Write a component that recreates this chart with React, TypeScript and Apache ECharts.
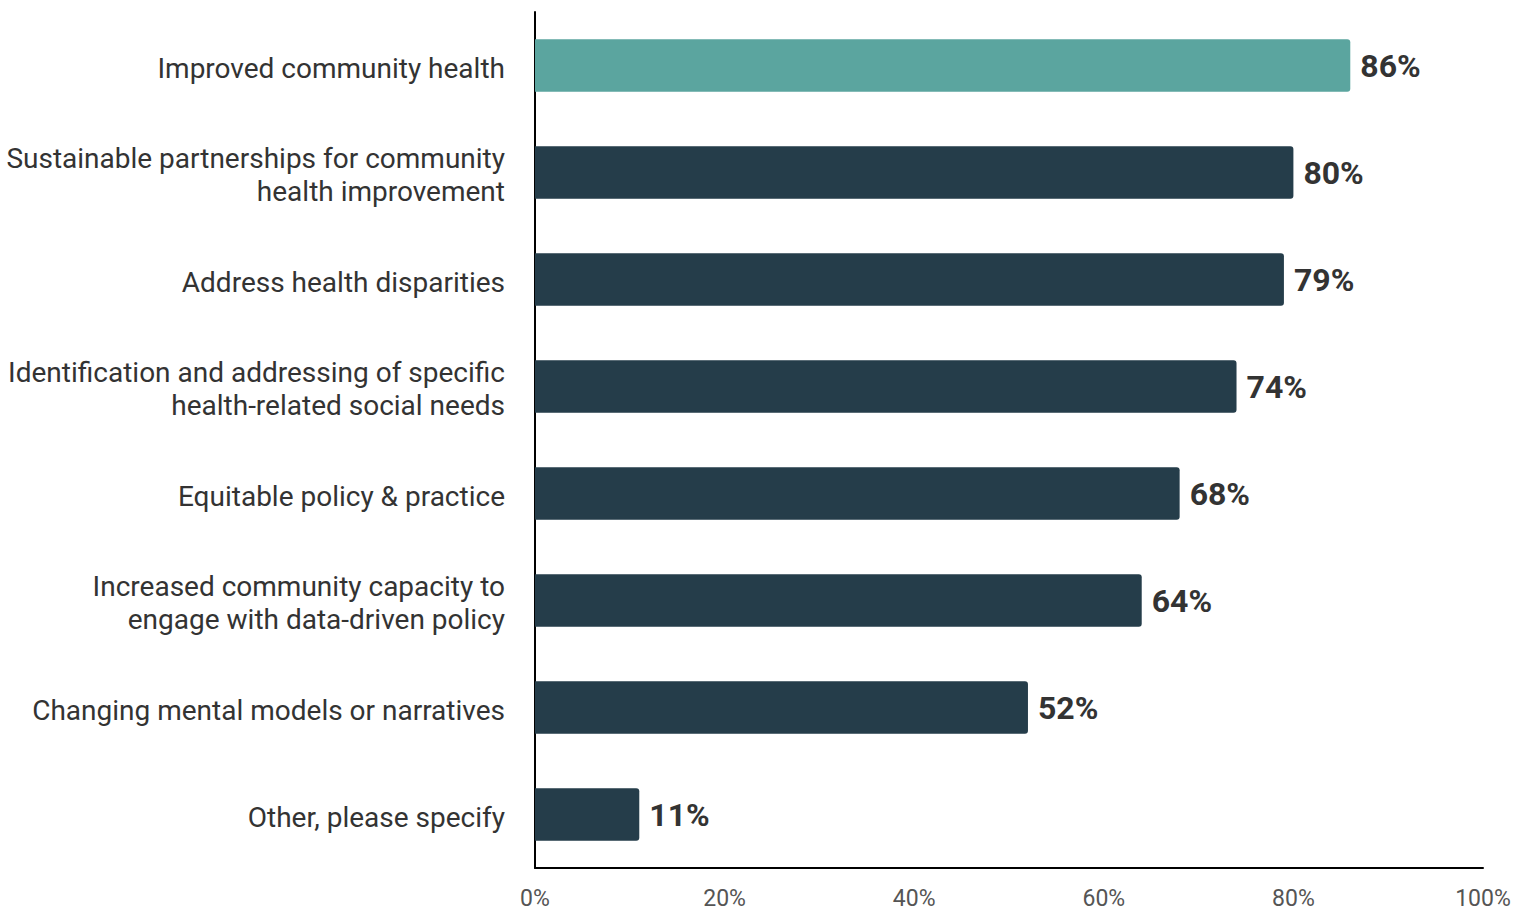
import React, { useEffect, useRef } from "react";
import * as echarts from "echarts";

const categories = [
  "Improved community health",
  "Sustainable partnerships for community\nhealth improvement",
  "Address health disparities",
  "Identification and addressing of specific\nhealth-related social needs",
  "Equitable policy & practice",
  "Increased community capacity to\nengage with data-driven policy",
  "Changing mental models or narratives",
  "Other, please specify",
];
const values = [86, 80, 79, 74, 68, 64, 52, 11];
const highlightIndex = 0;
const xTicks = [0, 20, 40, 60, 80, 100];

export default function App() {
  const ref = useRef<HTMLDivElement>(null);
  useEffect(() => {
    if (!ref.current) return;
    const chart = echarts.init(ref.current, null, { renderer: "svg" });
    const labelStyle = { color: "#333", fontFamily: "Roboto", fontSize: 28, lineHeight: 34, align: "right" };
    chart.setOption({
      animation: false,
      grid: { left: 535, right: 47, top: 12, bottom: 44, containLabel: false },
      xAxis: {
        type: "value",
        min: xTicks[0],
        max: xTicks[xTicks.length - 1],
        interval: 20,
        splitLine: { show: false },
        axisLine: { show: true, lineStyle: { color: "#000", width: 2 } },
        axisTick: { show: false },
        axisLabel: {
          formatter: "{value}%",
          color: "#555",
          fontFamily: "Roboto",
          fontSize: 23,
          margin: 19,
        },
      },
      yAxis: {
        type: "category",
        inverse: true,
        data: categories,
        axisLine: { show: true, onZero: false, lineStyle: { color: "#000", width: 2 } },
        axisTick: { show: false },
        axisLabel: {
          color: "#333",
          fontFamily: "Roboto",
          fontSize: 28,
          lineHeight: 34,
          margin: 30,
          align: "right",
          formatter: (v: string) =>
            v
              .split("\n")
              .map((l, i) => (i === 0 ? `{p|${l}}` : `{a|${l}}`))
              .join("\n"),
          rich: {
            p: { ...labelStyle, padding: [6, 0, 0, 0] },
            a: { ...labelStyle, padding: [3, 0, 0, 0] },
          },
        },
      },
      series: [
        {
          type: "bar",
          data: values.map((v, i) => ({
            value: v,
            itemStyle: { color: i === highlightIndex ? "#5ba59f" : "#253d4a" },
          })),
          barCategoryGap: "51%",
          itemStyle: { borderRadius: [0, 3, 3, 0] },
          label: {
            show: true,
            position: "right",
            distance: 10,
            formatter: "{c}%",
            color: "#333",
            fontFamily: "Roboto",
            fontWeight: "bold",
            fontSize: 32,
          },
        },
      ],
    });
    return () => chart.dispose();
  }, []);
  return <div ref={ref} style={{ width: 1530, height: 912, position: "absolute", left: 0, top: 0 }} />;
}
